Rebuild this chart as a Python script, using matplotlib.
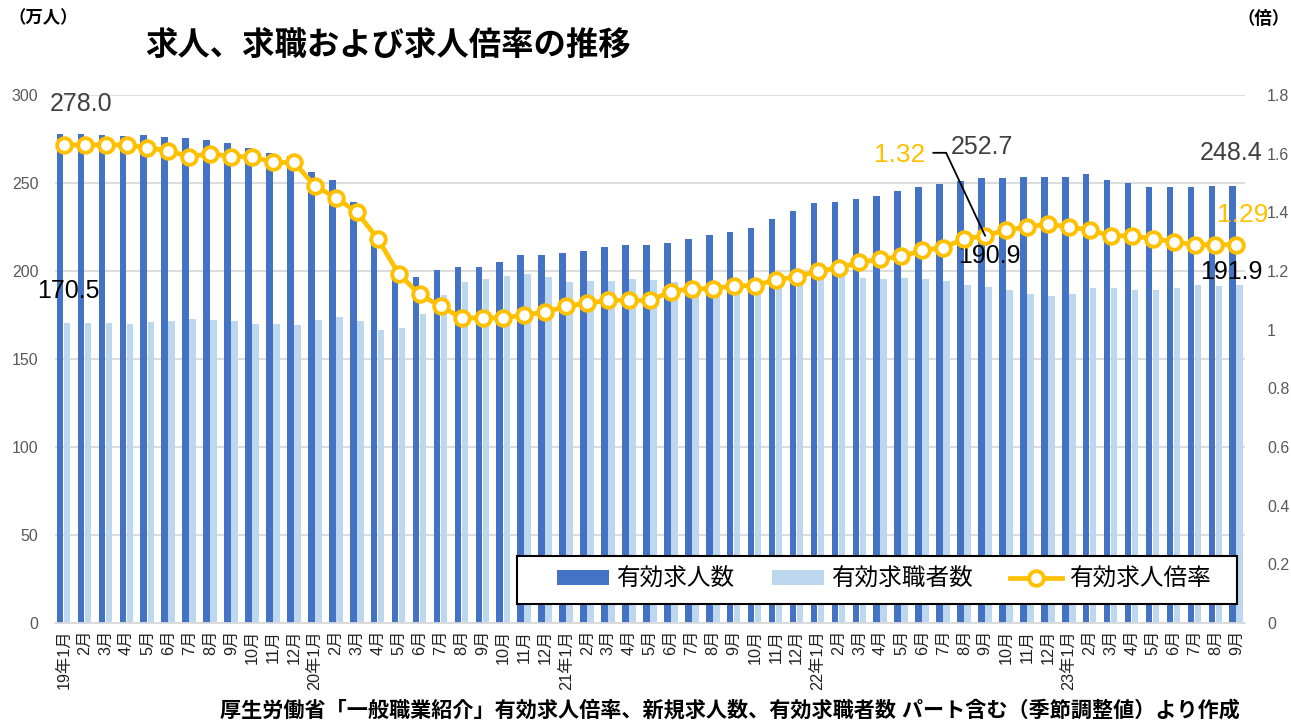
import matplotlib
matplotlib.use("Agg")
import matplotlib.pyplot as plt
import matplotlib.transforms as mtransforms
import numpy as np
from matplotlib.patches import Patch, Rectangle
from matplotlib.lines import Line2D

plt.rcParams['font.family'] = ['Liberation Sans', 'Noto Sans CJK JP']

# ---- data ----
years = ["19", "20", "21", "22", "23"]
months_per_year = [12, 12, 12, 12, 9]
tick_labels = []
for y, n in zip(years, months_per_year):
    for m in range(1, n + 1):
        tick_labels.append(f"{y}年{m}月" if m == 1 else f"{m}月")

job_openings = [  # 有効求人数 (万人)
    278.0, 277.7, 277.3, 276.9, 277.3, 276.1, 275.4, 274.4, 272.7, 269.9, 267.0, 265.5,
    256.4, 251.5, 239.0, 216.0, 197.0, 196.4, 200.4, 202.1, 202.5, 205.1, 208.9, 208.9,
    210.0, 211.5, 213.6, 214.9, 214.9, 215.9, 218.0, 220.5, 222.2, 224.2, 229.7, 234.1,
    238.8, 239.4, 240.7, 242.6, 245.3, 247.7, 249.4, 251.1, 252.7, 252.8, 253.4, 253.6,
    253.2, 255.1, 251.5, 249.8, 247.9, 247.9, 247.9, 248.1, 248.4]
job_seekers = [  # 有効求職者数 (万人)
    170.5, 170.6, 170.6, 170.1, 170.8, 171.8, 172.9, 172.2, 171.8, 170.1, 170.0, 169.5,
    172.3, 173.9, 171.4, 166.7, 167.6, 175.6, 186.2, 193.8, 195.5, 197.2, 198.5, 196.8,
    193.9, 194.5, 194.5, 195.6, 194.7, 194.0, 193.5, 194.0, 193.5, 194.0, 196.0, 196.5,
    197.2, 197.7, 196.2, 195.3, 196.0, 195.5, 194.5, 192.0, 190.9, 189.0, 187.1, 186.0,
    187.1, 190.2, 190.3, 189.2, 189.2, 190.3, 192.2, 191.7, 191.9]
ratio = [  # 有効求人倍率 (倍)
    1.63, 1.63, 1.63, 1.63, 1.62, 1.61, 1.59, 1.60, 1.59, 1.59, 1.57, 1.57,
    1.49, 1.45, 1.40, 1.31, 1.19, 1.12, 1.08, 1.04, 1.04, 1.04, 1.05, 1.06,
    1.08, 1.09, 1.10, 1.10, 1.10, 1.13, 1.14, 1.14, 1.15, 1.15, 1.17, 1.18,
    1.20, 1.21, 1.23, 1.24, 1.25, 1.27, 1.28, 1.31, 1.32, 1.34, 1.35, 1.36,
    1.35, 1.34, 1.32, 1.32, 1.31, 1.30, 1.29, 1.29, 1.29]

series_names = ["有効求人数", "有効求職者数", "有効求人倍率"]
title = "求人、求職および求人倍率の推移"
source = "厚生労働省「一般職業紹介」有効求人倍率、新規求人数、有効求職者数 パート含む（季節調整値）より作成"

# ---- styles ----
c_dark = "#4472C4"
c_light = "#BDD7EE"
c_line = "#FFC000"
c_tick = "#595959"

W, H = 1291, 722
fig = plt.figure(figsize=(W / 100, H / 100), dpi=100)
ax = fig.add_axes([55 / W, 1 - 623 / H, (1245 - 55) / W, (623 - 95) / H])
ax2 = ax.twinx()

x = np.arange(len(tick_labels))
bw = 0.315
off_d, off_l = -0.175, 0.16
ax.bar(x + off_d, job_openings, width=bw, color=c_dark, zorder=2)
ax.bar(x + off_l, job_seekers, width=bw, color=c_light, zorder=2)

ax2.plot(x, ratio, color=c_line, lw=3.4, marker='o', markersize=10.5,
         markerfacecolor='white', markeredgecolor=c_line, markeredgewidth=2.8, zorder=5)

ax.set_xlim(-0.415, len(x) - 1 + 0.41)
ax.set_ylim(0, 300)
ax.set_yticks(np.arange(0, 301, 50))
ax2.set_ylim(0, 1.8)
rt = np.round(np.arange(0, 1.81, 0.2), 1)
ax2.set_yticks(rt)
ax2.set_yticklabels(["0" if v == 0 else ("1" if v == 1 else f"{v:.1f}") for v in rt])

ax.grid(axis='y', color='#D9D9D9', lw=1.3, zorder=0)
ax.set_axisbelow(True)
for a in (ax, ax2):
    for s in ("top", "left", "right", "bottom"):
        a.spines[s].set_visible(False)
ax.spines["bottom"].set_visible(True)
ax.spines["bottom"].set_color('#D9D9D9')
ax.spines["bottom"].set_linewidth(1.3)

ax.set_xticks(x)
ax.set_xticklabels(tick_labels, rotation=90, fontsize=11.7, color='#222222')
ax.tick_params(axis='x', length=0, pad=5)
ax.tick_params(axis='y', length=0, labelsize=11.5, labelcolor=c_tick, pad=12)
ax2.tick_params(axis='y', length=0, labelsize=11.5, labelcolor=c_tick, pad=16)

# annotations (offsets in pixels)
def lab(axis, xv, yv, txt, dx, dy, color, size=18, ha='left'):
    axis.annotate(txt, (xv, yv), xytext=(dx, dy), textcoords='offset pixels',
                  fontsize=size, color=color, ha=ha, va='center', zorder=12)

k = 44
n = len(x) - 1
lab(ax, x[0] + off_d, job_openings[0], f"{job_openings[0]:.1f}", -10, 30, '#404040')
lab(ax, x[0] + off_l, job_seekers[0], f"{job_seekers[0]:.1f}", -30, 32, 'black')
lab(ax, x[k] + off_d, job_openings[k], f"{job_openings[k]:.1f}", -31, 31, '#404040')
lab(ax, x[k] + off_l, job_seekers[k], f"{job_seekers[k]:.1f}", -30, 31, 'black')
lab(ax2, x[k], ratio[k], f"{ratio[k]:.2f}", -60, 81, c_line, size=19, ha='right')
lab(ax, x[n] + off_d, job_openings[n], f"{job_openings[n]:.1f}", -33, 33, '#404040')
lab(ax2, x[n], ratio[n], f"{ratio[n]:.2f}", -19, 30, c_line, size=19)
lab(ax, x[n] + off_l, job_seekers[n], f"{job_seekers[n]:.1f}", -40, 13, 'black')

# leader line for the 1.32 label
ap = dict(arrowstyle='-', color='black', lw=1.3, shrinkA=0, shrinkB=0)
ax2.annotate("", xy=(x[k], ratio[k]), xytext=(-39, 83), textcoords='offset pixels',
             arrowprops=ap, zorder=7)
corner = mtransforms.offset_copy(ax2.transData, fig=fig, x=-39, y=83, units='dots')
ax2.annotate("", xy=(x[k], ratio[k]), xycoords=corner, xytext=(-13, 0),
             textcoords='offset pixels', arrowprops=ap, zorder=7)

# legend with a manually drawn box
bx0, bx1 = (517 - 55) / 1190, (1237 - 55) / 1190
by0, by1 = (623 - 604) / 528, (623 - 556) / 528
ax2.add_patch(Rectangle((bx0, by0), bx1 - bx0, by1 - by0, transform=ax2.transAxes,
                        facecolor='white', edgecolor='black', lw=1.5, zorder=9))
handles = [Patch(facecolor=c_dark), Patch(facecolor=c_light),
           Line2D([0], [0], color=c_line, lw=3.4, marker='o', markersize=10.5,
                  markerfacecolor='white', markeredgecolor=c_line, markeredgewidth=2.8)]
leg = ax2.legend(handles, series_names, loc='center',
                 bbox_to_anchor=((884 - 55) / 1190, (623 - 580) / 528),
                 ncol=3, fontsize=17, frameon=False,
                 handlelength=2.2, handleheight=0.6, columnspacing=1.6,
                 handletextpad=0.3, borderpad=0.2, borderaxespad=0)
leg.set_zorder(10)

fig.text(145 / W, 1 - 46 / H, title, fontsize=23.3, fontweight='bold', ha='left', va='center')
fig.text(8 / W, 1 - 18 / H, "（万人）", fontsize=12.5, fontweight='bold', ha='left', va='center')
fig.text(1290 / W, 1 - 18 / H, "（倍）", fontsize=12.5, fontweight='bold', ha='right', va='center')
fig.text(1240 / W, 1 - 710 / H, source, fontsize=15.2, fontweight='bold', ha='right', va='center')

fig.savefig("out.png", dpi=100)
